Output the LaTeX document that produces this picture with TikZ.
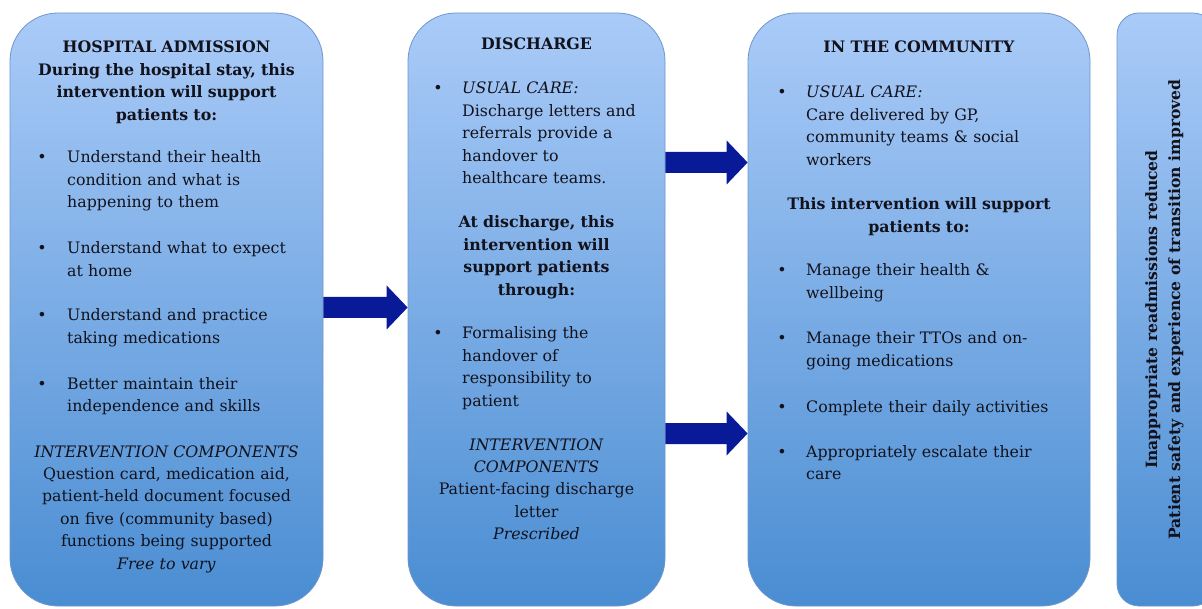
\documentclass[tikz,border=0pt]{standalone}
\usepackage{fontspec}
\setmainfont{DejaVu Serif}
\usetikzlibrary{calc}
\definecolor{boxtop}{RGB}{170,203,248}
\definecolor{boxbot}{RGB}{74,141,210}
\definecolor{boxline}{RGB}{110,150,205}
\definecolor{arrowblue}{RGB}{8,26,152}
\definecolor{ink}{RGB}{18,18,28}
\newcommand\blkarrow[2]{%
  \fill[blockarrow] ($(#1)+(0,-10.5)$) -- ($(#2)+(-21,-10.5)$) -- ($(#2)+(-21,-22)$) -- (#2)
    -- ($(#2)+(-21,22)$) -- ($(#2)+(-21,10.5)$) -- ($(#1)+(0,10.5)$) -- cycle;}
\begin{document}
\begin{tikzpicture}[x=1pt,y=-1pt,
  stage/.style={draw=boxline, line width=0.8pt, top color=boxtop, bottom color=boxbot, rounded corners=48pt, inner sep=0pt},
  txt/.style={inner sep=0pt, anchor=base west, align=left, text width=300pt, text=ink, font=\fontsize{15.8}{22.4}\selectfont},
  ctxt/.style={inner sep=0pt, anchor=base, align=center, text width=330pt, text=ink, font=\fontsize{15.8}{22.4}\selectfont},
  bul/.style={inner sep=0pt, anchor=base, text=ink, font=\fontsize{15.8}{22.4}\selectfont},
  blockarrow/.style={fill=arrowblue}]

\useasboundingbox (0,0) rectangle (1202,609);

% stages
\node[stage, minimum width=313pt, minimum height=593pt] (b1) at (166.5,309.5) {};
\node[stage, minimum width=257pt, minimum height=593pt] (b2) at (536.5,309.5) {};
\node[stage, minimum width=342pt, minimum height=593pt] (b3) at (919,309.5) {};
\node[stage, rounded corners=22pt, minimum width=98pt, minimum height=593pt] (b4) at (1166,309.5) {};

% arrows
\coordinate (a1s) at (b1.east |- 0,307.5);
\coordinate (a1e) at (b2.west |- 0,307.5);
\coordinate (a2s) at (b2.east |- 0,162.5);
\coordinate (a2e) at (b3.west |- 0,162.5);
\coordinate (a3s) at (b2.east |- 0,433.5);
\coordinate (a3e) at (b3.west |- 0,433.5);
\blkarrow{a1s}{a1e}
\blkarrow{a2s}{a2e}
\blkarrow{a3s}{a3e}

% box 1
\node[ctxt] (h1) at (166.5,53) {\textbf{HOSPITAL ADMISSION\\During the hospital stay, this\\intervention will support\\patients to:}};
\node[bul] (b1p1) at (42,163) {•};
\node[txt] (t1p1) at (67,163) {Understand their health\\condition and what is\\happening to them};
\node[bul] (b1p2) at (42,254) {•};
\node[txt] (t1p2) at (67,254) {Understand what to expect\\at home};
\node[bul] (b1p3) at (42,321) {•};
\node[txt] (t1p3) at (67,321) {Understand and practice\\taking medications};
\node[bul] (b1p4) at (42,389) {•};
\node[txt] (t1p4) at (67,389) {Better maintain their\\independence and skills};
\node[ctxt] (c1) at (166.5,457) {\textit{INTERVENTION COMPONENTS}\\Question card, medication aid,\\patient-held document focused\\on five (community based)\\functions being supported\\\textit{Free to vary}};

% box 2
\node[ctxt] (h2) at (536.5,50) {\textbf{DISCHARGE}};
\node[bul] (b2p1) at (438,94) {•};
\node[txt] (t2p1) at (462,94) {\textit{USUAL CARE:}\\Discharge letters and\\referrals provide a\\handover to\\healthcare teams.};
\node[ctxt] (m2) at (536.5,228) {\textbf{At discharge, this\\intervention will\\support patients\\through:}};
\node[bul] (b2p2) at (438,339) {•};
\node[txt] (t2p2) at (462,339) {Formalising the\\handover of\\responsibility to\\patient};
\node[ctxt] (c2) at (536.5,450) {\textit{INTERVENTION}\\\textit{COMPONENTS}\\Patient-facing discharge\\letter\\\textit{Prescribed}};

% box 3
\node[ctxt] (h3) at (919,53) {\textbf{IN THE COMMUNITY}};
\node[bul] (b3p1) at (782,98) {•};
\node[txt] (t3p1) at (806,98) {\textit{USUAL CARE:}\\Care delivered by GP,\\community teams \& social\\workers};
\node[ctxt] (m3) at (919,210) {\textbf{This intervention will support\\patients to:}};
\node[bul] (b3p2) at (782,276) {•};
\node[txt] (t3p2) at (806,276) {Manage their health \&\\wellbeing};
\node[bul] (b3p3) at (782,344) {•};
\node[txt] (t3p3) at (806,344) {Manage their TTOs and on-\\going medications};
\node[bul] (b3p4) at (782,412) {•};
\node[txt] (t3p4) at (806,412) {Complete their daily activities};
\node[bul] (b3p5) at (782,457) {•};
\node[txt] (t3p5) at (806,457) {Appropriately escalate their\\care};

% box 4
\node[inner sep=0pt, rotate=90, align=center, text=ink, font=\fontsize{15.6}{23}\selectfont\bfseries] (o4) at (1164.5,309.5) {Inappropriate readmissions reduced\\Patient safety and experience of transition improved};
\end{tikzpicture}
\end{document}
